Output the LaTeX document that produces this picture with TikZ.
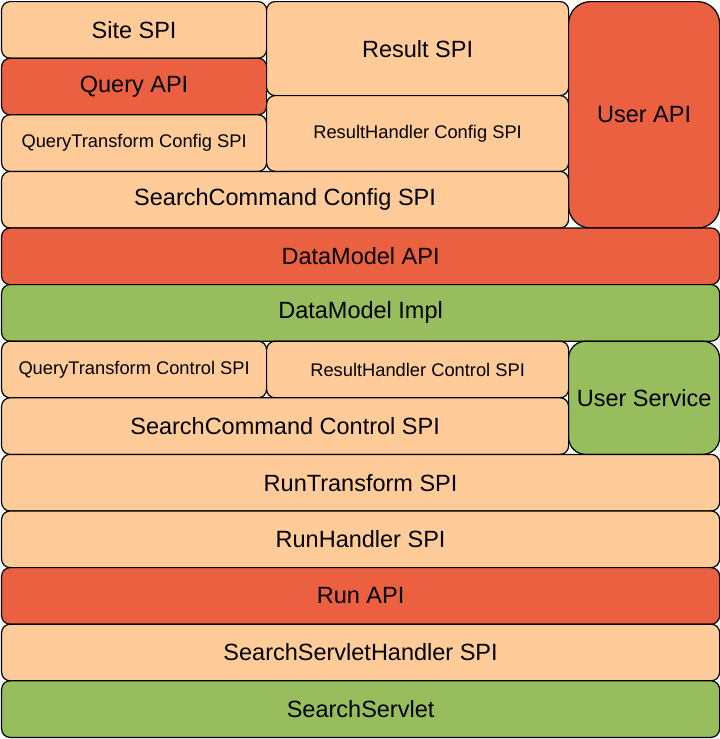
\documentclass[tikz,border=0pt]{standalone}
\usepackage{fontspec}
\setmainfont{Liberation Sans}

\definecolor{spi}{HTML}{FFCC99}
\definecolor{api}{HTML}{EA6040}
\definecolor{impl}{HTML}{97BD5D}

\begin{document}
\begin{tikzpicture}[x=1pt,y=-1pt,
                    %thick,
                    layer/.style={draw,line width=1.2pt,inner sep=0pt,
                                  anchor=north west,align=center,
                                  rounded corners=8.5pt,
                                  minimum height=56.6pt,
                                  font=\fontsize{23.5}{28}\selectfont},
                    small/.style={font=\fontsize{18.3}{22}\selectfont},
                    left col/.style={minimum width=265pt},
                    mid col/.style={minimum width=302pt},
                    half/.style={minimum width=567pt},
                    full/.style={minimum width=718pt}]

  \useasboundingbox (0,0) rectangle (720,739);

  % upper part
  \node[layer,left col,fill=spi] (site) at (1,1) {Site SPI};
  \node[layer,left col,fill=api] (query) at (1,57.6) {Query API};
  \node[layer,left col,small,fill=spi] (qtconf) at (1,114.2) {QueryTransform Config SPI};
  \node[layer,mid col,fill=spi,minimum height=94pt] (result) at (266,1) {Result SPI};
  \node[layer,mid col,small,fill=spi,minimum height=75.8pt] (rhconf) at (266,95) {ResultHandler Config SPI};
  \node[layer,fill=api,minimum width=151pt,minimum height=226.4pt,rounded corners=22pt] (userapi) at (568,1) {User API};
  \node[layer,half,fill=spi] (scconf) at (1,170.8) {SearchCommand Config SPI};

  % data model
  \node[layer,full,fill=api] (dmapi) at (1,227.4) {DataModel API};
  \node[layer,full,fill=impl] (dmimpl) at (1,284) {DataModel Impl};

  % control part
  \node[layer,left col,small,fill=spi] (qtctrl) at (1,340.6) {QueryTransform Control SPI};
  \node[layer,mid col,small,fill=spi] (rhctrl) at (266,340.6) {ResultHandler Control SPI};
  \node[layer,fill=impl,minimum width=151pt,minimum height=113.2pt,rounded corners=17pt] (usersvc) at (568,340.6) {User Service};
  \node[layer,half,fill=spi] (scctrl) at (1,397.2) {SearchCommand Control SPI};

  % run part
  \node[layer,full,fill=spi] (runtrans) at (1,453.8) {RunTransform SPI};
  \node[layer,full,fill=spi] (runhandler) at (1,510.4) {RunHandler SPI};
  \node[layer,full,fill=api] (runapi) at (1,567) {Run API};
  \node[layer,full,fill=spi] (servhandler) at (1,623.6) {SearchServletHandler SPI};
  \node[layer,full,fill=impl] (servlet) at (1,680.2) {SearchServlet};
\end{tikzpicture}
\end{document}
